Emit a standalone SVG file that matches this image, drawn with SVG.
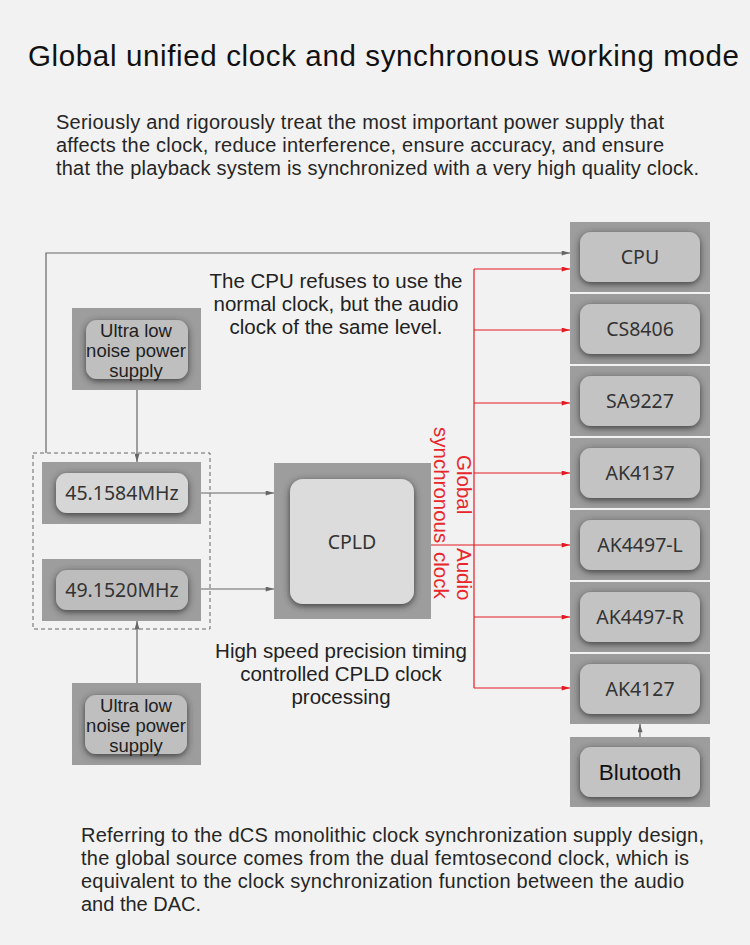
<svg xmlns="http://www.w3.org/2000/svg" width="750" height="945" viewBox="0 0 750 945">
<defs>
<style>
.outer{fill:#9d9d9d}
.lbl{font-family:"Noto Sans","DejaVu Sans",sans-serif;font-size:19.5px;fill:#333;text-anchor:middle}
.prose{font-family:"Liberation Sans",Arial,sans-serif;font-size:20px;fill:#262626}
.note{font-family:"Liberation Sans",Arial,sans-serif;font-size:20.5px;fill:#222;text-anchor:middle}
.ps{font-family:"Liberation Sans",Arial,sans-serif;font-size:18.5px;fill:#1e1e1e;text-anchor:middle}
.g{stroke:#666;stroke-width:1.2;fill:none}
.r{stroke:#e31b23;stroke-width:1.2;fill:none}
.rt{font-family:"Liberation Sans",Arial,sans-serif;font-size:20.5px;fill:#e8262b}
</style>
<filter id="sh" x="-25%" y="-35%" width="150%" height="170%">
<feDropShadow dx="0" dy="2" stdDeviation="3.5" flood-color="#333333" flood-opacity="0.9"/>
</filter>
<marker id="ag" viewBox="0 0 10 6" refX="10" refY="3" markerWidth="10" markerHeight="5" markerUnits="userSpaceOnUse" orient="auto"><path d="M0,0 L10,3 L0,6 z" fill="#666"/></marker>
<marker id="ar" viewBox="0 0 10 6" refX="10" refY="3" markerWidth="10" markerHeight="5" markerUnits="userSpaceOnUse" orient="auto"><path d="M0,0 L10,3 L0,6 z" fill="#e31b23"/></marker>
</defs>
<rect width="750" height="945" fill="#f2f2f2"/>

<g id="texts">
<text x="28" y="66" font-family="'Liberation Sans',Arial,sans-serif" font-size="29.5" fill="#111" textLength="711" lengthAdjust="spacing">Global unified clock and synchronous working mode</text>
<text class="prose" x="56" y="129" textLength="608" lengthAdjust="spacing">Seriously and rigorously treat the most important power supply that</text>
<text class="prose" x="56" y="152" textLength="608" lengthAdjust="spacing">affects the clock, reduce interference, ensure accuracy, and ensure</text>
<text class="prose" x="56" y="175" textLength="643" lengthAdjust="spacing">that the playback system is synchronized with a very high quality clock.</text>
<text class="note" x="336" y="288">The CPU refuses to use the</text>
<text class="note" x="336" y="311">normal clock, but the audio</text>
<text class="note" x="336" y="334">clock of the same level.</text>
<text class="note" x="341" y="658">High speed precision timing</text>
<text class="note" x="341" y="681">controlled CPLD clock</text>
<text class="note" x="341" y="704">processing</text>
<text class="prose" x="81" y="842" textLength="623" lengthAdjust="spacing">Referring to the dCS monolithic clock synchronization supply design,</text>
<text class="prose" x="81" y="865" textLength="608" lengthAdjust="spacing">the global source comes from the dual femtosecond clock, which is</text>
<text class="prose" x="81" y="888" textLength="603" lengthAdjust="spacing">equivalent to the clock synchronization function between the audio</text>
<text class="prose" x="81" y="911">and the DAC.</text>
</g>

<g id="psu-top">
<rect class="outer" x="72" y="308" width="129" height="82"/>
<rect x="86" y="320" width="102" height="59" rx="11" fill="#bfbfbf" filter="url(#sh)"/>
<text class="ps" x="136" y="337">Ultra low</text>
<text class="ps" x="136" y="357">noise power</text>
<text class="ps" x="136" y="377">supply</text>
</g>

<g id="psu-bottom">
<rect class="outer" x="72" y="683" width="129" height="82"/>
<rect x="85" y="695" width="102" height="59" rx="11" fill="#bfbfbf" filter="url(#sh)"/>
<text class="ps" x="136" y="712">Ultra low</text>
<text class="ps" x="136" y="732">noise power</text>
<text class="ps" x="136" y="752">supply</text>
</g>

<g id="osc-group">
<rect x="33" y="453" width="177" height="176" fill="none" stroke="#666" stroke-width="1" stroke-dasharray="4,3"/>
</g>
<g id="osc-45">
<rect class="outer" x="42" y="462" width="159" height="62"/>
<rect x="56" y="473" width="132" height="40" rx="11" fill="#d6d6d6" filter="url(#sh)"/>
<text class="lbl" x="122" y="500" font-size="18">45.1584MHz</text>
</g>
<g id="osc-49">
<rect class="outer" x="42" y="559" width="159" height="62"/>
<rect x="56" y="570" width="132" height="40" rx="11" fill="#bdbdbd" filter="url(#sh)"/>
<text class="lbl" x="122" y="597" font-size="18">49.1520MHz</text>
</g>

<g id="cpld">
<rect class="outer" x="274" y="463" width="157" height="156"/>
<rect x="290" y="479" width="124" height="125" rx="13" fill="#dcdcdc" filter="url(#sh)"/>
<text class="lbl" x="352" y="549" font-size="20">CPLD</text>
</g>

<g id="cpu">
<rect class="outer" x="570" y="222" width="140" height="70"/>
<rect x="580" y="232" width="120" height="50" rx="11" fill="#c3c3c3" filter="url(#sh)"/>
<text class="lbl" x="640" y="264">CPU</text>
</g>
<g id="cs8406">
<rect class="outer" x="570" y="294" width="140" height="70"/>
<rect x="580" y="304" width="120" height="50" rx="11" fill="#c3c3c3" filter="url(#sh)"/>
<text class="lbl" x="640" y="336">CS8406</text>
</g>
<g id="sa9227">
<rect class="outer" x="570" y="366" width="140" height="70"/>
<rect x="580" y="376" width="120" height="50" rx="11" fill="#c3c3c3" filter="url(#sh)"/>
<text class="lbl" x="640" y="408">SA9227</text>
</g>
<g id="ak4137">
<rect class="outer" x="570" y="438" width="140" height="70"/>
<rect x="580" y="448" width="120" height="50" rx="11" fill="#c3c3c3" filter="url(#sh)"/>
<text class="lbl" x="640" y="480">AK4137</text>
</g>
<g id="ak4497l">
<rect class="outer" x="570" y="510" width="140" height="70"/>
<rect x="580" y="520" width="120" height="50" rx="11" fill="#c3c3c3" filter="url(#sh)"/>
<text class="lbl" x="640" y="552">AK4497-L</text>
</g>
<g id="ak4497r">
<rect class="outer" x="570" y="582" width="140" height="70"/>
<rect x="580" y="592" width="120" height="50" rx="11" fill="#c3c3c3" filter="url(#sh)"/>
<text class="lbl" x="640" y="624">AK4497-R</text>
</g>
<g id="ak4127">
<rect class="outer" x="570" y="654" width="140" height="70"/>
<rect x="580" y="664" width="120" height="50" rx="11" fill="#c3c3c3" filter="url(#sh)"/>
<text class="lbl" x="640" y="696">AK4127</text>
</g>
<g id="bluetooth">
<rect class="outer" x="570" y="737" width="140" height="70"/>
<rect x="580" y="747" width="120" height="50" rx="11" fill="#c3c3c3" filter="url(#sh)"/>
<text x="640" y="780" font-family="'Liberation Sans',Arial,sans-serif" font-size="22.5" fill="#111" text-anchor="middle">Blutooth</text>
</g>

<g id="connectors">
<path class="g" d="M46,453 V253 H570" marker-end="url(#ag)"/>
<path class="g" d="M137,390 V462" marker-end="url(#ag)"/>
<path class="g" d="M137,683 V621" marker-end="url(#ag)"/>
<path class="g" d="M201,493 H274" marker-end="url(#ag)"/>
<path class="g" d="M201,589 H274" marker-end="url(#ag)"/>
<path class="g" d="M640,737 V724" marker-end="url(#ag)"/>
<path class="r" d="M474,269 V688"/>
<path class="r" d="M474,269 H570" marker-end="url(#ar)"/>
<path class="r" d="M474,330 H570" marker-end="url(#ar)"/>
<path class="r" d="M474,403 H570" marker-end="url(#ar)"/>
<path class="r" d="M474,473 H570" marker-end="url(#ar)"/>
<path class="r" d="M431,545 H570" marker-end="url(#ar)"/>
<path class="r" d="M474,617 H570" marker-end="url(#ar)"/>
<path class="r" d="M474,688 H570" marker-end="url(#ar)"/>
</g>

<g id="red-label">
<text class="rt" transform="translate(457,455) rotate(90)">Global</text>
<text class="rt" transform="translate(457,548) rotate(90)">Audio</text>
<text class="rt" transform="translate(434,427) rotate(90)">synchronous</text>
<text class="rt" transform="translate(434,552) rotate(90)">clock</text>
</g>
</svg>
